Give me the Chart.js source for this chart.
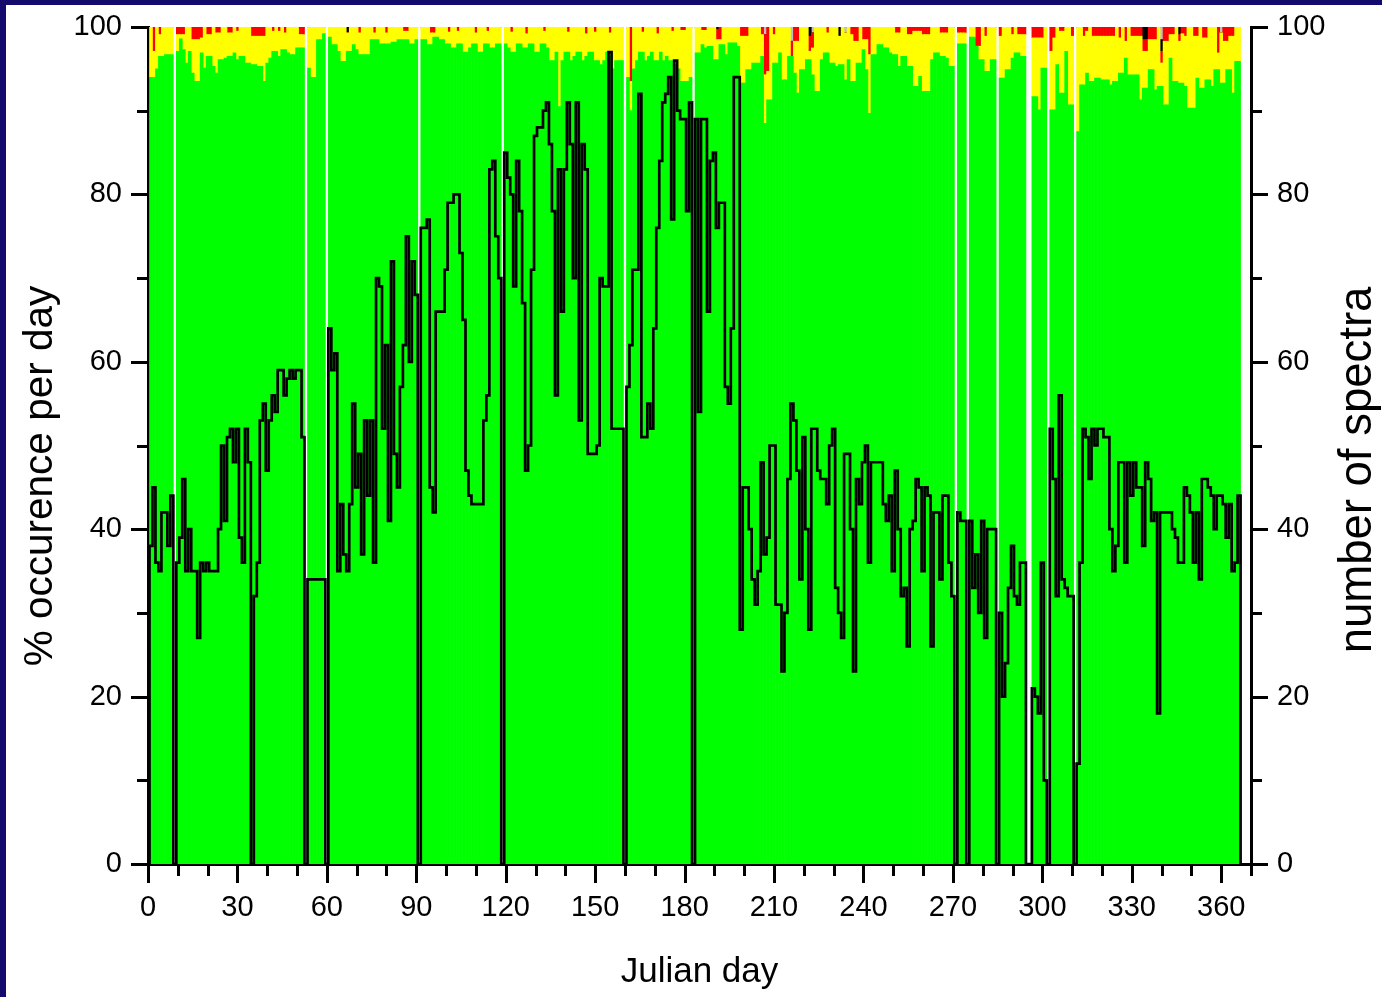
<!DOCTYPE html>
<html>
<head>
<meta charset="utf-8">
<title>Julian day occurrence</title>
<script src="https://cdn.jsdelivr.net/npm/chart.js@4.4.0/dist/chart.umd.min.js"></script>
<style>
  html, body { margin: 0; padding: 0; background: #fff; }
  #wrap { position: relative; width: 1382px; height: 997px; overflow: hidden; }
  #wrap canvas { position: absolute; left: 0; top: 0; }
  .band { position: absolute; background: #140a6b; }
  #bandTop { left: 0; top: 0; width: 1382px; height: 5px; }
  #bandLeft { left: 0; top: 0; width: 6px; height: 997px; }
</style>
</head>
<body>
<div id="wrap">
  <canvas id="chart" width="1382" height="997"></canvas>
  <div class="band" id="bandTop"></div>
  <div class="band" id="bandLeft"></div>
</div>
<script>
// ---- data: one entry per Julian day, starting at firstDay ----
const firstDay = 1;

// % of the day in the green class (null = no data that day)
const green = [
  94, 94, 95, 96.5, 96.5, 96.7, 96.7, 96.7, null, 97.1,          // 1-10
  98.6, 97.3, 95.7, 97.1, 94.5, 93.5, 93.5, 96.9, 95.1, 96.5,     // 11-20
  96.5, 95.3, 94.5, 96.1, 96.1, 96.3, 96.5, 96.5, 96.9, 96.1,     // 21-30
  96.5, 96.5, 95.7, 95.7, 95.5, 95.5, 95.3, 95.3, 93.5, 95.7,     // 31-40
  96.3, 97.1, 97.1, 96.5, 97.3, 97.3, 96.9, 96.7, 96.7, 97.5,     // 41-50
  97.5, 97.5, null, 95.1, 94, 94, 98.5, 98.5, 99.2, null,         // 51-60
  98.8, 97.9, 97.9, 97.1, 95.9, 95.9, 97.1, 97.1, 97.9, 97.3,     // 61-70
  96.7, 96.7, 96.7, 96.7, 98.5, 98.5, 98.5, 98, 98, 98,           // 71-80
  98, 98.2, 98.2, 98.5, 98.5, 98.5, 98.5, 98, 98, 98.5,           // 81-90
  null, 98.5, 98.5, 97.9, 97.9, 98.8, 98.8, 98.5, 98.5, 98,       // 91-100
  98, 97.5, 97.5, 98, 98, 97, 97, 97.5, 98, 98,                   // 101-110
  97, 97, 98, 98, 97.5, 97.5, 98, 98, null, 98,                   // 111-120
  97.5, 97, 97, 98, 98, 97.5, 97.5, 98, 98, 97,                   // 121-130
  97, 98, 98, 97.5, 96, 96, 97, 90.5, 96, 97,                     // 131-140
  97, 96, 96.5, 97, 97, 96, 96.5, 97, 97, 96,                     // 141-150
  96, 95.5, 96, 97, 96.5, 95, 96, 96, 96, null,                   // 151-160
  94, 90, 95, 96, 97, 97, 96, 96.5, 97, 96,                       // 161-170
  96, 97, 96, 96.5, 96, 96, 95.5, 95, 93.5, 93.5,                 // 171-180
  93.5, 94, null, 96.9, 96.9, 97.9, 97.5, 97.7, 97.7, 96.1,       // 181-190
  96.1, 97.9, 97.9, 96.7, 98.1, 98.1, 98.1, 97.7, 93.3, 93.3,     // 191-200
  94.9, 94.9, 95.7, 95.7, 95.7, 96.5, 88.5, 91.3, 91.3, 95.7,     // 201-210
  95.7, 96.9, 93.7, 93.7, 96.5, 96.5, 94.5, 92.1, 94.9, 94.9,     // 211-220
  96.1, 96.1, 94.3, 92.3, 92.3, 96.1, 96.9, 96.9, 95.7, 95.7,     // 221-230
  95.3, 95.5, 95.5, 93.7, 96.1, 93.5, 93.5, 95.7, 95.7, 97.3,     // 231-240
  94.9, 89.7, 96.7, 96.7, 97.9, 97.9, 97.5, 97.5, 96.9, 96.7,     // 241-250
  96.7, 95.3, 96.5, 96.5, 95.3, 95.3, 92.9, 92.9, 94.1, 92.3,     // 251-260
  92.3, 92.3, 96.1, 96.9, 96.9, 96.5, 96.5, 96.3, 95.3, 95.3,     // 261-270
  null, 98, 98, 98, null, 98.8, 98.8, 97.7, 96.1, 96.1,           // 271-280
  94.7, 94.7, 96.1, 96.1, null, 93.9, 93.9, 94.9, 94.9, 96.3,     // 281-290
  96.9, 96.9, 96.5, 96.5, null, null, 91.7, 91.7, 90.1, 95.1,     // 291-300
  95.1, null, 90.1, 90.1, 95.5, 92.1, 92.1, 97.1, 90.7, 90.7,     // 301-310
  null, 87.5, 93.1, 93.1, 94.5, 93.5, 93.5, 93.9, 93.9, 93.7,     // 311-320
  93.7, 93.7, 93.1, 93.5, 93.5, 94.5, 94.5, 96.3, 94.3, 94.3,     // 321-330
  94.3, 94.3, 91.3, 92.7, 92.7, 94.9, 94.9, 92.5, 92.9, 92.9,     // 331-340
  90.7, 90.7, 96.3, 93.5, 93.5, 93.3, 93.3, 92.9, 90.3, 90.3,     // 341-350
  90.3, 93.9, 92.7, 92.7, 93.7, 93.7, 92.9, 94.9, 94.9, 93.3,     // 351-360
  93.3, 94.9, 94.9, 92.1, 95.9, 95.9                              // 361-366
];

// small classes, [day, % of the day]; the yellow class is the rest of the day
const red = [
  [2, 2.9], [4, 0.9], [10, 0.9], [11, 0.9], [12, 0.9], [15, 1.5], [16, 1.5], [17, 1.5], [18, 1.3],
  [20, 0.9], [21, 0.9], [23, 0.7], [24, 0.7], [27, 0.7], [28, 0.7], [30, 0.5], [35, 1.1], [36, 1.1],
  [37, 1.1], [38, 1.1], [39, 1.1], [42, 0.5], [44, 0.5], [46, 0.7], [51, 0.9], [52, 0.9], [71, 0.7],
  [76, 0.7], [80, 0.7], [86, 0.5], [87, 0.5], [95, 0.7], [96, 0.7], [101, 0.6], [104, 0.5], [110, 0.7],
  [114, 0.5], [122, 0.6], [127, 0.8], [133, 0.5], [141, 0.6], [147, 0.8], [150, 0.6], [155, 0.7],
  [162, 6.5], [166, 0.6], [171, 0.8], [176, 0.5], [179, 0.4], [180, 0.4], [186, 0.4], [187, 0.4],
  [191, 1.2], [192, 1.5], [199, 1.1], [200, 1.1], [201, 1.1], [206, 0.9], [207, 4.8], [208, 5.3],
  [210, 0.9], [216, 1.8], [217, 1.7], [218, 1.7], [222, 1.8], [223, 1.8], [228, 0.7], [236, 0.9],
  [237, 1.7], [238, 1.7], [240, 1.5], [241, 1.5], [242, 3.3], [251, 0.7], [252, 0.7], [255, 0.9],
  [256, 0.9], [257, 0.5], [258, 0.5], [259, 0.5], [260, 0.9], [261, 0.9], [262, 0.9], [266, 0.7],
  [267, 0.7], [268, 0.7], [272, 0.7], [273, 0.7], [274, 0.7], [278, 2.3], [279, 2.3], [281, 1.1],
  [286, 1.1], [290, 0.9], [292, 0.9], [293, 0.9], [294, 0.9], [297, 1.3], [298, 1.3], [299, 1.3],
  [300, 1.3], [303, 2.9], [304, 1.3], [306, 0.5], [307, 0.5], [310, 1.1], [314, 1.1], [315, 0.5],
  [317, 1.1], [318, 1.1], [319, 1.1], [320, 1.1], [321, 1.1], [322, 1.1], [323, 1.1], [324, 1.1],
  [326, 1.3], [328, 1.7], [330, 1.1], [331, 1.1], [332, 1.1], [333, 1.1], [334, 1.4], [335, 1.4],
  [336, 1.5], [337, 1.5], [338, 1.5], [340, 1.4], [341, 1.7], [342, 1.7], [343, 0.9], [344, 0.9],
  [346, 0.8], [347, 0.8], [348, 1.1], [351, 1.1], [352, 1.1], [354, 1.3], [355, 1.3], [359, 3.1],
  [361, 1.7], [362, 1.7], [363, 1.1], [364, 1.1]
];
const black = [[67, 0.7], [191, 0.3], [222, 1.1], [232, 1.1], [334, 1.5], [335, 1.5], [340, 1.4], [346, 0.9]];
const grey = [[207, 0.9], [216, 1.7], [223, 0.7], [234, 0.7], [340, 1.5], [360, 0.7]];

// number of spectra per day (right axis)
const spectra = [
  38, 45, 36, 35, 42, 42, 38, 44, 0, 36,       // 1-10
  39, 46, 35, 40, 35, 35, 27, 36, 35, 36,      // 11-20
  35, 35, 35, 40, 50, 41, 51, 52, 48, 52,      // 21-30
  39, 36, 52, 48, 0, 32, 36, 53, 55, 47,       // 31-40
  53, 56, 54, 59, 59, 56, 58, 59, 58, 59,      // 41-50
  59, 51, 0, 34, 34, 34, 34, 34, 34, 0,        // 51-60
  64, 59, 61, 35, 43, 37, 35, 43, 55, 45,      // 61-70
  49, 37, 53, 44, 53, 36, 70, 69, 52, 62,      // 71-80
  41, 72, 49, 45, 57, 62, 75, 60, 72, 68,      // 81-90
  0, 76, 76, 77, 45, 42, 66, 66, 66, 71,       // 91-100
  79, 79, 80, 80, 73, 65, 47, 44, 43, 43,      // 101-110
  43, 43, 53, 56, 83, 84, 75, 70, 0, 85,       // 111-120
  82, 80, 69, 84, 78, 67, 47, 50, 71, 87,      // 121-130
  88, 88, 90, 91, 86, 78, 56, 83, 66, 83,      // 131-140
  91, 86, 70, 91, 53, 86, 83, 49, 49, 49,      // 141-150
  50, 70, 69, 69, 97, 52, 52, 52, 52, 0,       // 151-160
  57, 62, 71, 71, 92, 51, 51, 55, 52, 64,      // 161-170
  76, 84, 91, 92, 94, 77, 96, 90, 89, 89,      // 171-180
  78, 91, 0, 89, 54, 89, 89, 66, 84, 85,       // 181-190
  76, 79, 79, 57, 55, 64, 94, 94, 28, 45,      // 191-200
  45, 40, 34, 31, 35, 48, 37, 39, 50, 50,      // 201-210
  31, 31, 23, 30, 46, 55, 53, 47, 34, 51,      // 211-220
  40, 28, 52, 52, 47, 46, 46, 43, 50, 52,      // 221-230
  33, 30, 27, 49, 49, 40, 23, 46, 43, 48,      // 231-240
  50, 36, 48, 48, 48, 48, 43, 41, 44, 35,      // 241-250
  47, 40, 32, 33, 26, 40, 41, 46, 45, 35,      // 251-260
  45, 44, 26, 42, 42, 34, 44, 44, 36, 32,      // 261-270
  0, 42, 41, 41, 0, 41, 33, 37, 30, 41,        // 271-280
  27, 40, 40, 40, 0, 30, 20, 24, 33, 38,       // 281-290
  32, 31, 36, 36, 0, 0, 21, 20, 18, 36,        // 291-300
  10, 0, 52, 46, 32, 56, 34, 33, 32, 32,       // 301-310
  0, 12, 36, 52, 51, 46, 52, 50, 52, 52,       // 311-320
  51, 51, 40, 35, 38, 48, 48, 36, 48, 44,      // 321-330
  48, 45, 45, 38, 48, 46, 41, 42, 18, 42,      // 331-340
  42, 42, 42, 40, 39, 36, 36, 45, 44, 42,      // 341-350
  36, 42, 34, 46, 46, 45, 44, 40, 44, 44,      // 351-360
  43, 39, 43, 35, 36, 44                       // 361-366
];

const xRange = { min: 0, max: 370, major: 30, minor: 10 };
const yRange = { min: 0, max: 100, major: 20, minor: 10 };
const leftTitle = '% occurence per day';
const rightTitle = 'number of spectra';
const bottomTitle = 'Julian day';

// ---- build per-day series ----
const days = green.map((_, i) => firstDay + i);
function perDay(pairs) {
  const out = days.map(() => 0);
  pairs.forEach(([d, v]) => { out[d - firstDay] = v; });
  return out;
}
const redPct = perDay(red);
const blackPct = perDay(black);
const greyPct = perDay(grey);
const yellowPct = green.map((g, i) =>
  g === null ? null : Math.max(0, +(100 - g - redPct[i] - blackPct[i] - greyPct[i]).toFixed(2)));

function barSet(label, values, color) {
  return {
    type: 'bar',
    label: label,
    data: days.map((d, i) => ({ x: d, y: green[i] === null ? null : values[i] })),
    backgroundColor: color,
    borderWidth: 0,
    barPercentage: 1,
    categoryPercentage: 1,
    yAxisID: 'y',
    stack: 'day',
    order: 1
  };
}

const spectraLine = {
  type: 'line',
  label: 'number of spectra',
  // histogram outline closes on the baseline at both ends
  data: [{ x: firstDay - 1, y: 0 }]
    .concat(days.map((d, i) => ({ x: d, y: spectra[i] })))
    .concat([{ x: days[days.length - 1] + 1, y: 0 }]),
  yAxisID: 'y2',
  stepped: 'middle',
  borderColor: '#000',
  borderWidth: 2.7,
  pointRadius: 0,
  fill: false,
  order: 0
};

// ---- tick marks (major / minor) and the two rotated axis titles ----
const axisDecor = {
  id: 'axisDecor',
  afterDraw(chart) {
    const { ctx } = chart;
    const { x, y, y2 } = chart.scales;
    ctx.save();
    ctx.strokeStyle = '#000';
    ctx.lineWidth = 3;
    ctx.beginPath();
    for (let v = xRange.min; v <= xRange.max; v += xRange.minor) {
      const px = Math.round(x.getPixelForValue(v)) + 0.5;
      const len = v % xRange.major === 0 ? 19 : 12;
      ctx.moveTo(px, x.top);
      ctx.lineTo(px, x.top + len);
    }
    for (let v = yRange.min; v <= yRange.max; v += yRange.minor) {
      const len = v % yRange.major === 0 ? 17 : 11;
      const py = Math.round(y.getPixelForValue(v)) + 0.5;
      ctx.moveTo(y.right - len, py);
      ctx.lineTo(y.right, py);
      const py2 = Math.round(y2.getPixelForValue(v)) + 0.5;
      ctx.moveTo(y2.left, py2);
      ctx.lineTo(y2.left + len, py2);
    }
    ctx.stroke();

    ctx.fillStyle = '#000';
    ctx.textAlign = 'center';
    ctx.textBaseline = 'middle';
    const rotated = (text, cx, cy, size) => {
      ctx.save();
      ctx.translate(cx, cy);
      ctx.rotate(-Math.PI / 2);
      ctx.font = size + 'px "Liberation Sans", Arial, sans-serif';
      ctx.fillText(text, 0, 0);
      ctx.restore();
    };
    rotated(leftTitle, 41, 476, 40.5);
    rotated(rightTitle, 1358, 470, 45.5);
    ctx.restore();
  }
};

// the axis boxes are sized by hand, so the label overflow is not added on top
function fixBox(width, height) {
  return (s) => {
    if (width !== null) s.width = width;
    if (height !== null) s.height = height;
    s.paddingTop = 0;
    s.paddingBottom = 0;
  };
}

Chart.defaults.font.family = '"Liberation Sans", Arial, sans-serif';
Chart.defaults.color = '#000';

const tickFont = { size: 29 };

new Chart(document.getElementById('chart'), {
  type: 'bar',
  data: {
    datasets: [
      barSet('green', green, '#00ff00'),
      barSet('yellow', yellowPct, '#ffff00'),
      barSet('red', redPct, '#ff0000'),
      barSet('black', blackPct, '#000000'),
      barSet('grey', greyPct, '#c0c0c0'),
      spectraLine
    ]
  },
  options: {
    responsive: false,
    animation: false,
    devicePixelRatio: 1,
    layout: { padding: { top: 27, left: 0, right: 0, bottom: 0 } },
    plugins: { legend: { display: false }, tooltip: { enabled: false } },
    scales: {
      x: {
        type: 'linear',
        min: xRange.min,
        max: xRange.max,
        offset: false,
        stacked: true,
        grid: { display: false, drawTicks: false },
        border: { display: true, color: '#000', width: 3 },
        ticks: { stepSize: xRange.major, includeBounds: false, padding: 27, font: tickFont, maxRotation: 0, autoSkip: false },
        title: { display: true, text: bottomTitle, font: { size: 35 }, padding: { top: 0, bottom: 4 } },
        afterFit: fixBox(null, 133)
      },
      y: {
        type: 'linear',
        position: 'left',
        min: yRange.min,
        max: yRange.max,
        stacked: true,
        grid: { display: false, drawTicks: false },
        border: { display: true, color: '#000', width: 3 },
        ticks: { stepSize: yRange.major, padding: 26, font: tickFont },
        afterFit: fixBox(148, null)
      },
      y2: {
        type: 'linear',
        position: 'right',
        min: yRange.min,
        max: yRange.max,
        grid: { display: false, drawTicks: false },
        border: { display: true, color: '#000', width: 3 },
        ticks: { stepSize: yRange.major, padding: 26, font: tickFont },
        afterFit: fixBox(131, null)
      }
    }
  },
  plugins: [axisDecor]
});
</script>
</body>
</html>
